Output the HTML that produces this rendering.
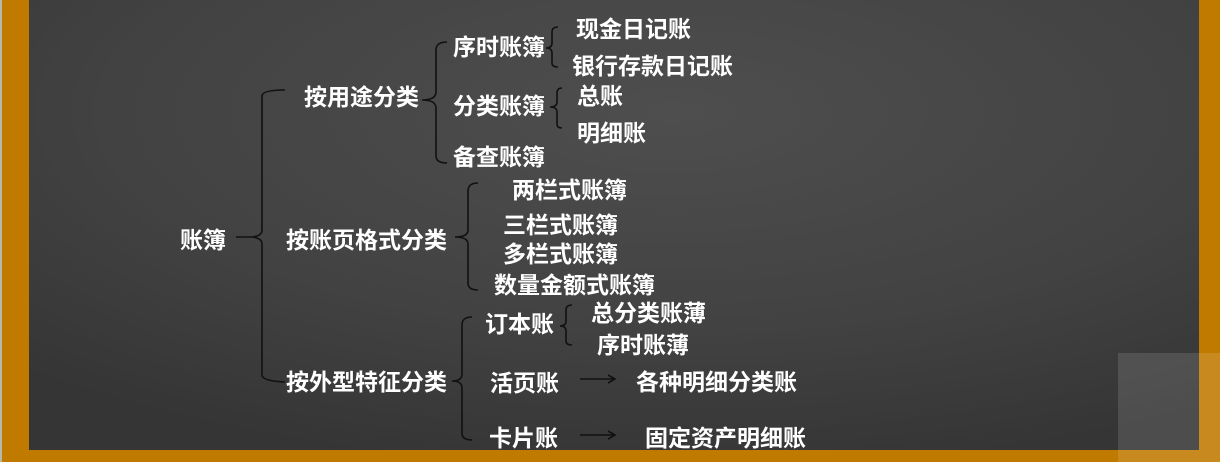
<!DOCTYPE html>
<html><head><meta charset="utf-8"><style>
html,body{margin:0;padding:0;width:1220px;height:462px;overflow:hidden;background:#c07800;}
svg{display:block}
text{font-family:"Liberation Sans","Noto Sans CJK SC","WenQuanYi Zen Hei",sans-serif;font-weight:bold;font-size:23px;fill:#fff;dominant-baseline:central}
</style></head><body>
<svg width="1220" height="462" viewBox="0 0 1220 462" xmlns="http://www.w3.org/2000/svg">
<defs>
<radialGradient id="bg" cx="0.55" cy="0.25" r="0.8">
<stop offset="0" stop-color="#4e4e4e"/>
<stop offset="0.6" stop-color="#424242"/>
<stop offset="1" stop-color="#353535"/>
</radialGradient>
</defs>
<rect x="0" y="0" width="1220" height="462" fill="#c17a00"/>
<rect x="0" y="0" width="2" height="462" fill="#b8b8a8"/>
<rect x="29" y="0" width="1170" height="450" fill="url(#bg)"/>
<rect x="1118" y="353" width="102" height="109" fill="#fff" opacity="0.12"/>
<g fill="none" stroke="#111" stroke-width="1.6">
<path d="M285 90 Q262 90 262 96 L262 230 Q262 236 252 237 L236 237 M252 237 Q262 238 262 244 L262 375 Q262 381 285 382"/>
<path d="M447 42 Q436 42 436 50 L436 92 Q436 100 422 100 M422 100 Q436 100 436 108 L436 156 Q436 163 447 163"/>
<path d="M558 27 Q552 27 552 32 L552 43 Q552 48 546 48 Q552 48 552 53 L552 63 Q552 67 558 67"/>
<path d="M562 88 Q557 88 557 93 L557 102 Q557 107 550 107 Q557 107 557 112 L557 124 Q557 128 562 128"/>
<path d="M478 183 Q468 183 468 191 L468 230 Q468 237 455 237 Q468 237 468 244 L468 283 Q468 290 478 290"/>
<path d="M472 317 Q462 317 462 325 L462 374 Q462 381 452 381 Q462 381 462 388 L462 433 Q462 440 472 440"/>
<path d="M572 305 Q566 305 566 310 L566 321 Q566 326 560 326 Q566 326 566 331 L566 341 Q566 345 572 345"/>
<path d="M580 379 L614 379 M608 375 L615 379 L608 383"/>
<path d="M580 435 L614 435 M608 431 L615 435 L608 439"/>
</g>
<text x="180" y="240">账簿</text>
<text x="304" y="97">按用途分类</text>
<text x="453" y="47">序时账簿</text>
<text x="576" y="29">现金日记账</text>
<text x="572" y="66">银行存款日记账</text>
<text x="453" y="106">分类账簿</text>
<text x="577" y="96">总账</text>
<text x="577" y="133">明细账</text>
<text x="453" y="157">备查账簿</text>
<text x="286" y="240">按账页格式分类</text>
<text x="512" y="190">两栏式账簿</text>
<text x="503" y="225">三栏式账簿</text>
<text x="503" y="254">多栏式账簿</text>
<text x="494" y="285">数量金额式账簿</text>
<text x="286" y="382">按外型特征分类</text>
<text x="485" y="324">订本账</text>
<text x="591" y="313">总分类账薄</text>
<text x="597" y="345">序时账薄</text>
<text x="490" y="383">活页账</text>
<text x="636" y="382">各种明细分类账</text>
<text x="489" y="438">卡片账</text>
<text x="645" y="438">固定资产明细账</text>
</svg>
</body></html>
